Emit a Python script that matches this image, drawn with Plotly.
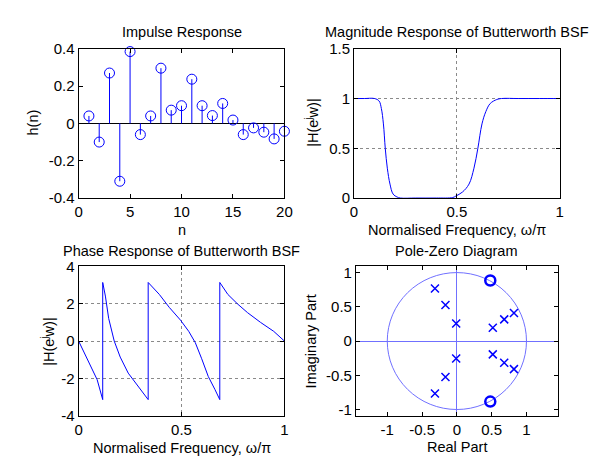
import plotly.graph_objects as go

# ---------------- data ----------------
n = list(range(1, 21))
h = [0.04, -0.10, 0.27, -0.31, 0.385, -0.06, 0.04, 0.296, 0.071, 0.095,
     0.237, 0.095, 0.042, 0.107, 0.018, -0.06, -0.024, -0.047, -0.083, -0.042]

mag_w = [0, 0.05, 0.10, 0.122, 0.133, 0.143, 0.152, 0.162, 0.175, 0.19, 0.21, 0.225,
         0.30, 0.40, 0.48, 0.495, 0.527, 0.559, 0.583, 0.602, 0.622, 0.641, 0.662,
         0.694, 0.717, 0.8, 0.9, 1.0]
mag_h = [1, 1, 1, 0.975, 0.90, 0.745, 0.5, 0.30, 0.14, 0.04, 0.01, 0,
         0, 0, 0.005, 0.02, 0.06, 0.14, 0.30, 0.5, 0.745, 0.87, 0.95,
         0.99, 1, 1, 1, 1]

ph_w = [0, 0.059, 0.09, 0.117, 0.117, 0.130, 0.146, 0.173, 0.202, 0.241, 0.281, 0.338,
        0.338, 0.392, 0.440, 0.495, 0.535, 0.567, 0.598, 0.630, 0.662, 0.686,
        0.686, 0.725, 0.773, 0.821, 0.884, 0.948, 1.0]
ph = [0, -1.3, -2.07, -3.14, 3.14, 2.41, 1.21, 0, -0.86, -1.72, -2.33, -3.14,
      3.14, 2.5, 1.81, 1.12, 0.52, -0.09, -0.95, -1.9, -2.59, -3.14,
      3.14, 2.5, 1.98, 1.52, 1.0, 0.52, 0]

pole_re = [-0.315, -0.164, -0.01, 0.516, 0.68, 0.82, -0.315, -0.164, -0.01, 0.516, 0.68, 0.82]
pole_im = [0.767, 0.526, 0.256, 0.195, 0.316, 0.41, -0.767, -0.526, -0.256, -0.195, -0.316, -0.41]
zero_re = [0.48, 0.48]
zero_im = [0.884, -0.884]

W, H = 597, 459
FONT = "Liberation Sans, Arial, sans-serif"
BLUE = "#0000ff"
LBLUE = "#7070ff"


def px(x):
    return x / W


def py(y):
    return 1 - y / H


fig = go.Figure()

# impulse response stems + circles
sx, sy = [], []
for k, v in zip(n, h):
    sx += [k, k, None]
    sy += [0, v, None]
fig.add_trace(go.Scatter(x=sx, y=sy, mode="lines", line=dict(color=BLUE, width=1),
                         xaxis="x", yaxis="y", hoverinfo="skip"))
fig.add_trace(go.Scatter(x=n, y=h, mode="markers", cliponaxis=False,
                         marker=dict(symbol="circle-open", size=10, color=BLUE, line=dict(width=1)),
                         xaxis="x", yaxis="y"))

# magnitude
fig.add_trace(go.Scatter(x=mag_w, y=mag_h, mode="lines", line=dict(color=BLUE, width=1),
                         line_shape="spline", xaxis="x2", yaxis="y2"))

# phase
fig.add_trace(go.Scatter(x=ph_w, y=ph, mode="lines", line=dict(color=BLUE, width=1),
                         xaxis="x3", yaxis="y3"))

# pole-zero
fig.add_trace(go.Scatter(x=pole_re, y=pole_im, mode="markers",
                         marker=dict(symbol="x-thin-open", size=8, color=BLUE, line=dict(width=1.5, color=BLUE)),
                         xaxis="x4", yaxis="y4"))
fig.add_trace(go.Scatter(x=zero_re, y=zero_im, mode="markers", cliponaxis=False,
                         marker=dict(symbol="circle-open", size=10, color=BLUE, line=dict(width=2.5)),
                         xaxis="x4", yaxis="y4"))
fig.add_shape(type="circle", xref="x4", yref="y4", x0=-1, x1=1, y0=-1, y1=1,
              line=dict(color=LBLUE, width=1), layer="below")

axis_common = dict(showline=True, mirror="ticks", linecolor="black", linewidth=1,
                   ticks="inside", ticklen=4, tickcolor="black",
                   tickfont=dict(family=FONT, size=15, color="black"), showgrid=False, zeroline=False)
grid = dict(showgrid=True, gridcolor="#8a8a8a", griddash="dot", gridwidth=1)

dom_tl_x = [px(68), px(278)]
dom_tr_x = [px(349), px(559)]
dom_bl_x = [px(68), px(278)]
dom_br_x = [px(351), px(557)]
dom_top_y = [py(188), py(33)]
dom_bot_y = [py(414), py(259)]

fig.update_layout(
    width=W, height=H, margin=dict(l=0, r=0, t=0, b=0),
    paper_bgcolor="white", plot_bgcolor="white", showlegend=False,
    font=dict(family=FONT, size=14, color="black"),
    xaxis=dict(axis_common, domain=dom_tl_x, range=[0, 20], tickvals=[0, 5, 10, 15, 20], anchor="y"),
    yaxis=dict(axis_common, domain=dom_top_y, range=[-0.4, 0.4],
               tickvals=[-0.4, -0.2, 0, 0.2, 0.4], ticktext=["-0.4", "-0.2", "0", "0.2", "0.4"],
               zeroline=True, zerolinecolor="black", zerolinewidth=1, anchor="x"),
    xaxis2=dict(axis_common, **grid, domain=dom_tr_x, range=[0, 1], tickvals=[0, 0.5, 1], anchor="y2"),
    yaxis2=dict(axis_common, **grid, domain=dom_top_y, range=[0, 1.5], tickvals=[0, 0.5, 1, 1.5], anchor="x2"),
    xaxis3=dict(axis_common, **grid, domain=dom_bl_x, range=[0, 1], tickvals=[0, 0.5, 1], anchor="y3"),
    yaxis3=dict(axis_common, **grid, domain=dom_bot_y, range=[-4, 4], tickvals=[-4, -2, 0, 2, 4],
                ticktext=["-4", "-2", "0", "2", "4"], anchor="x3"),
    xaxis4=dict(axis_common, domain=dom_br_x, range=[-1.45, 1.45], tickvals=[-1, -0.5, 0, 0.5, 1],
                ticktext=["-1", "-0.5", "0", "0.5", "1"],
                zeroline=True, zerolinecolor=LBLUE, zerolinewidth=1, anchor="y4"),
    yaxis4=dict(axis_common, domain=dom_bot_y, range=[-1.09, 1.09], tickvals=[-1, -0.5, 0, 0.5, 1],
                ticktext=["-1", "-0.5", "0", "0.5", "1"],
                zeroline=True, zerolinecolor=LBLUE, zerolinewidth=1, anchor="x4"),
)

# titles and axis labels
labels = [
    ("Impulse Response", 173, 16, 0),
    ("Magnitude Response of Butterworth BSF", 454, 16, 0),
    ("Phase Response of Butterworth BSF", 173, 243, 0),
    ("Pole-Zero Diagram", 454, 243, 0),
    ("n", 173, 221, 0),
    ("Normalised Frequency, ω/π", 454, 221, 0),
    ("Normalised Frequency, ω/π", 173, 448, 0),
    ("Real Part", 454, 447, 0),
    ("h(n)", 21, 110, -90),
    ("|H(e<sup>j</sup>w)|", 306, 110, -90),
    ("|H(e<sup>j</sup>w)|", 36, 337, -90),
    ("Imaginary Part", 305, 337, -90),
]
for txt, x, y, ang in labels:
    fig.add_annotation(text=txt, x=px(x), y=py(y), xref="paper", yref="paper",
                       xanchor="center", yanchor="middle", showarrow=False, textangle=ang,
                       font=dict(family=FONT, size=14.5, color="black"))

fig.write_html("out.html")
